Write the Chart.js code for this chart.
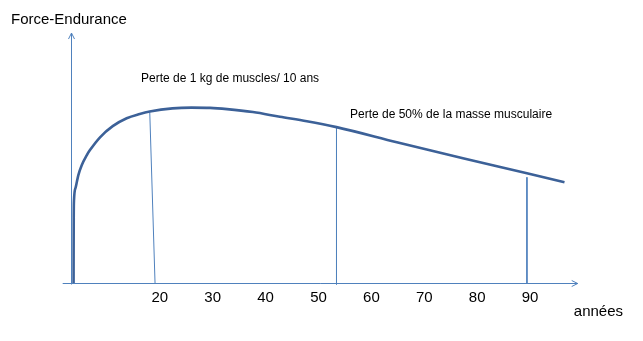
<!DOCTYPE html>
<html>
<head>
<meta charset="utf-8">
<script src="https://cdn.jsdelivr.net/npm/chart.js@4"></script>
<style>
  html, body { margin: 0; padding: 0; background: #fff; }
</style>
</head>
<body>
<canvas id="chart" width="643" height="341"></canvas>
<script>
'use strict';

// age (x) and force-endurance level (y)
const curveAges = [3.7, 3.71, 3.73, 3.78, 4.1, 4.59, 5.24, 6.18, 6.8, 8.7, 11.1, 13.74, 16.2, 18.09, 22.4, 26.0, 29.5, 32.7, 37.6, 42.7, 47.8, 53.4, 64.8, 77.3, 89.4, 96.5];
const curveForce = [0, 13.2, 26.6, 33.5, 38.7, 43.6, 47.7, 51.7, 53.8, 59.0, 63.5, 66.7, 68.4, 69.4, 70.7, 71.0, 70.9, 70.4, 69.2, 67.3, 65.5, 63.1, 57.0, 50.5, 44.4, 40.8];

// drop lines from the curve down to the axis
const markTopAges = [18.1, 53.4, 89.4];
const markTopForce = [69.2, 63.1, 42.8];
const markBottomAges = [19.1, 53.4, 89.4];
const markBottomForce = [0, -0.6, 0];

const tickYears = [20, 30, 40, 50, 60, 70, 80, 90];

const noteTexts = ['Perte de 1 kg de muscles/ 10 ans', 'Perte de 50% de la masse musculaire'];
const noteAges = [16.45, 55.95];
const noteForce = [82.8, 68.2];

const FONT = '"Liberation Sans", Arial, sans-serif';

// hand drawn axes with open arrow heads, plus the two notes
const axesArrows = {
    id: 'axesArrows',
    beforeDatasetsDraw(chart) {
        const {ctx, scales: {x, y}} = chart;
        const ax = Math.round(x.getPixelForValue(3.2)) + 0.5;
        const ay = Math.round(y.getPixelForValue(0.2)) + 0.5;
        const yTop = y.getPixelForValue(101.2);
        const yBottom = y.getPixelForValue(-0.6);
        const xLeft = x.getPixelForValue(1.64);
        const xRight = x.getPixelForValue(99);
        ctx.save();
        ctx.strokeStyle = '#4F81BD';
        ctx.lineWidth = 1;
        ctx.beginPath();
        ctx.moveTo(ax, yBottom);
        ctx.lineTo(ax, yTop);
        ctx.moveTo(ax - 3, yTop + 6);
        ctx.lineTo(ax, yTop);
        ctx.lineTo(ax + 3, yTop + 6);
        ctx.moveTo(xLeft, ay);
        ctx.lineTo(xRight, ay);
        ctx.moveTo(xRight - 6, ay - 3);
        ctx.lineTo(xRight, ay);
        ctx.lineTo(xRight - 6, ay + 3);
        ctx.stroke();
        ctx.restore();
    },
    afterDatasetsDraw(chart) {
        const {ctx, scales: {x, y}} = chart;
        ctx.save();
        ctx.font = '12px ' + FONT;
        ctx.fillStyle = '#000';
        ctx.textAlign = 'left';
        ctx.textBaseline = 'middle';
        noteTexts.forEach((t, i) => {
            ctx.fillText(t, x.getPixelForValue(noteAges[i]), y.getPixelForValue(noteForce[i]));
        });
        ctx.restore();
    }
};

function renderChart() {
    const curve = curveAges.map((a, i) => ({x: a, y: curveForce[i]}));
    const marks = markTopAges.map((a, i) => ({
        data: [{x: a, y: markTopForce[i]}, {x: markBottomAges[i], y: markBottomForce[i]}],
        showLine: true,
        borderColor: '#4F81BD',
        borderWidth: 1,
        pointRadius: 0,
        clip: false
    }));

    const config = {
        type: 'scatter',
        data: {
            datasets: [{
                data: curve,
                showLine: true,
                borderColor: '#3C6198',
                borderWidth: 2.6,
                cubicInterpolationMode: 'monotone',
                pointRadius: 0,
                clip: false
            }].concat(marks)
        },
        options: {
            responsive: false,
            animation: false,
            layout: { padding: { left: 11, right: 20, top: 0, bottom: 20 } },
            plugins: {
                legend: { display: false },
                tooltip: { enabled: false },
                title: {
                    display: true,
                    text: 'Force-Endurance',
                    align: 'start',
                    color: '#000',
                    font: { family: FONT, size: 15, weight: 'normal' },
                    padding: { top: 11, bottom: 7 }
                }
            },
            scales: {
                x: {
                    type: 'linear',
                    min: 0,
                    max: 107.56,
                    grid: { display: false, drawTicks: false },
                    border: { display: false },
                    afterBuildTicks: s => { s.ticks = tickYears.map(v => ({value: v})); },
                    ticks: {
                        padding: 6,
                        color: '#000',
                        autoSkip: false,
                        maxRotation: 0,
                        font: { family: FONT, size: 15 },
                        callback: v => String(v)
                    },
                    title: {
                        display: true,
                        text: 'années',
                        align: 'end',
                        color: '#000',
                        font: { family: FONT, size: 15, lineHeight: 1.2 },
                        padding: { top: -10, bottom: 0 }
                    }
                },
                y: {
                    min: 0,
                    max: 100,
                    grid: { display: false, drawTicks: false },
                    border: { display: false },
                    ticks: { display: false },
                    afterFit: s => { s.width = 43; }
                }
            }
        },
        plugins: [axesArrows]
    };

    new Chart(document.getElementById('chart'), config);
}

document.addEventListener('DOMContentLoaded', renderChart);
</script>
</body>
</html>
